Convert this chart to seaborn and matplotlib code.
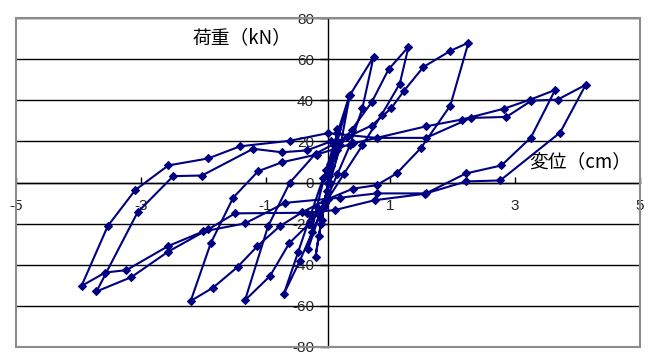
import matplotlib
matplotlib.use("Agg")
import matplotlib.pyplot as plt
from matplotlib.patches import Rectangle
import seaborn as sns
import pandas as pd

# Load-displacement record of the cyclic test (displacement in cm, load in kN)
disp = [0.00, 0.04, 0.09, 0.05, -0.02, -0.07, -0.11, -0.05, 0.02, 0.08,
        0.15, 0.10, 0.02, -0.06, -0.15, -0.20, -0.10, 0.00,
        0.15, 0.35, 0.20, 0.03, -0.14, -0.32, -0.18, -0.03, 0.15,
        0.34, 0.73, 0.55, 0.35, 0.15, -0.05, -0.25, -0.45, -0.71, -0.48,
        -0.28, -0.08, 0.15, 0.38, 0.70, 0.97, 1.29, 1.15, 0.86, 0.55,
        0.25, 0.00, -0.30, -0.62, -0.93, -1.33, -0.96, -0.61, -0.20, 0.30,
        0.70, 1.01, 1.22, 1.53, 1.96, 2.25, 1.96, 1.49, 1.10, 0.78,
        0.40, 0.00, -0.41, -0.77, -1.13, -1.45, -1.84, -2.20, -1.88, -1.52,
        -1.12, -0.73, -0.18, 0.40, 1.57, 2.14, 2.82, 3.24, 3.64, 3.25,
        2.78, 2.21, 1.57, 0.78, 0.19, -0.69, -1.33, -2.00, -2.56, -3.23,
        -3.57, -3.95, -3.53, -3.09, -2.56, -1.92, -1.41, -0.61, 0.00, 0.78,
        1.57, 2.29, 2.86, 3.26, 3.68, 4.13, 3.72, 2.76, 2.21, 1.55,
        0.75, 0.11, -0.33, -1.49, -1.92, -2.56, -3.15, -3.71, -3.05, -2.48,
        -2.02, -1.20, -0.74, -0.34, 0.05]
load = [0.0, 9.0, 18.0, 8.0, -4.0, -12.0, -20.0, -9.0, 3.0, 12.0,
        26.0, 14.0, 0.0, -12.0, -26.0, -36.0, -18.0, 0.0,
        20.0, 42.5, 18.0, 0.0, -16.0, -32.5, -12.0, 6.0, 24.0,
        42.0, 61.0, 36.0, 18.0, 4.0, -10.0, -24.0, -38.0, -54.4, -34.0,
        -16.0, 2.0, 16.0, 25.7, 39.0, 55.0, 66.0, 48.0, 33.0, 18.0,
        4.0, -8.0, -20.0, -29.5, -45.5, -57.3, -21.2, 0.0, 14.0, 22.0,
        27.7, 36.0, 44.7, 56.2, 64.0, 68.0, 37.4, 16.8, 4.4, -1.3,
        -3.0, -8.0, -14.4, -21.2, -30.9, -41.1, -51.1, -57.6, -29.6, -7.4,
        5.5, 9.9, 13.6, 19.0, 27.3, 30.6, 35.9, 40.3, 45.0, 21.8,
        8.3, 4.4, -5.3, -5.3, -7.4, -9.9, -19.9, -23.8, -30.9, -42.6,
        -43.8, -50.3, -21.2, -3.7, 8.3, 11.7, 17.6, 20.3, 24.0, 21.7,
        21.7, 31.4, 31.9, 39.8, 40.3, 47.5, 24.3, 1.0, 0.5, -5.5,
        -8.6, -13.4, -14.7, -15.0, -22.8, -33.6, -46.0, -53.0, -14.4, 3.1,
        3.4, 16.4, 14.7, 15.6, 20.0]

x_ticks = [-5, -3, -1, 1, 3, 5]
x_labels = ["-5", "-3", "-1", "1", "3", "5"]
y_ticks = [-80, -60, -40, -20, 0, 20, 40, 60, 80]
y_labels = ["-80", "-60", "-40", "-20", "0", "20", "40", "60", "80"]

load_title = "荷重（kN）"
disp_title = "変位（cm）"

sns.set_theme(style="white")
plt.rcParams["font.family"] = ["Liberation Sans", "DejaVu Sans"]
plt.rcParams["axes.unicode_minus"] = False

W, H = 653, 354
fig = plt.figure(figsize=(W / 100, H / 100), dpi=100)
ax = fig.add_axes([16 / W, (H - 347) / H, 624 / W, 329 / H])

df = pd.DataFrame({"step": range(len(disp)), "disp": disp, "load": load})
sns.lineplot(data=df, x="disp", y="load", sort=False, estimator=None,
             color="#000080", linewidth=1.5, marker="D", markersize=4.2,
             markeredgecolor="#000080", markeredgewidth=0.8, ax=ax, zorder=5)

ax.set_xlim(-5, 5)
ax.set_ylim(-80, 80)
ax.set_xlabel("")
ax.set_ylabel("")

# axes crossing at the origin
for side in ("left", "bottom"):
    ax.spines[side].set_position(("data", 0))
    ax.spines[side].set_color("black")
    ax.spines[side].set_linewidth(1.0)
    ax.spines[side].set_zorder(3)
for side in ("top", "right"):
    ax.spines[side].set_visible(False)

ax.set_xticks(x_ticks)
ax.set_xticklabels(x_labels)
ax.set_yticks(y_ticks)
ax.set_yticklabels(y_labels)
ax.tick_params(axis="x", direction="in", length=4, width=1, color="black",
               pad=12, labelsize=11, bottom=True)
ax.tick_params(axis="y", direction="out", length=6, width=1, color="black",
               pad=4, labelsize=11, left=True)

# horizontal gridlines
ax.yaxis.grid(True, color="black", linewidth=1.0, zorder=1)
ax.xaxis.grid(False)
ax.set_axisbelow(True)

# plot-area frame
ax.add_patch(Rectangle((0, 0), 1, 1, transform=ax.transAxes, fill=False,
                       edgecolor="#8c8c8c", linewidth=1.5, clip_on=False,
                       zorder=4))

cjk = ["Noto Sans CJK JP", "DejaVu Sans"]
ax.text(-2.17, 70.5, load_title, family=cjk, fontsize=13.5, ha="left",
        va="center", color="black")
ax.text(3.23, 10.0, disp_title, family=cjk, fontsize=13.5, ha="left",
        va="center", color="black")

fig.savefig("out.png", dpi=100)
